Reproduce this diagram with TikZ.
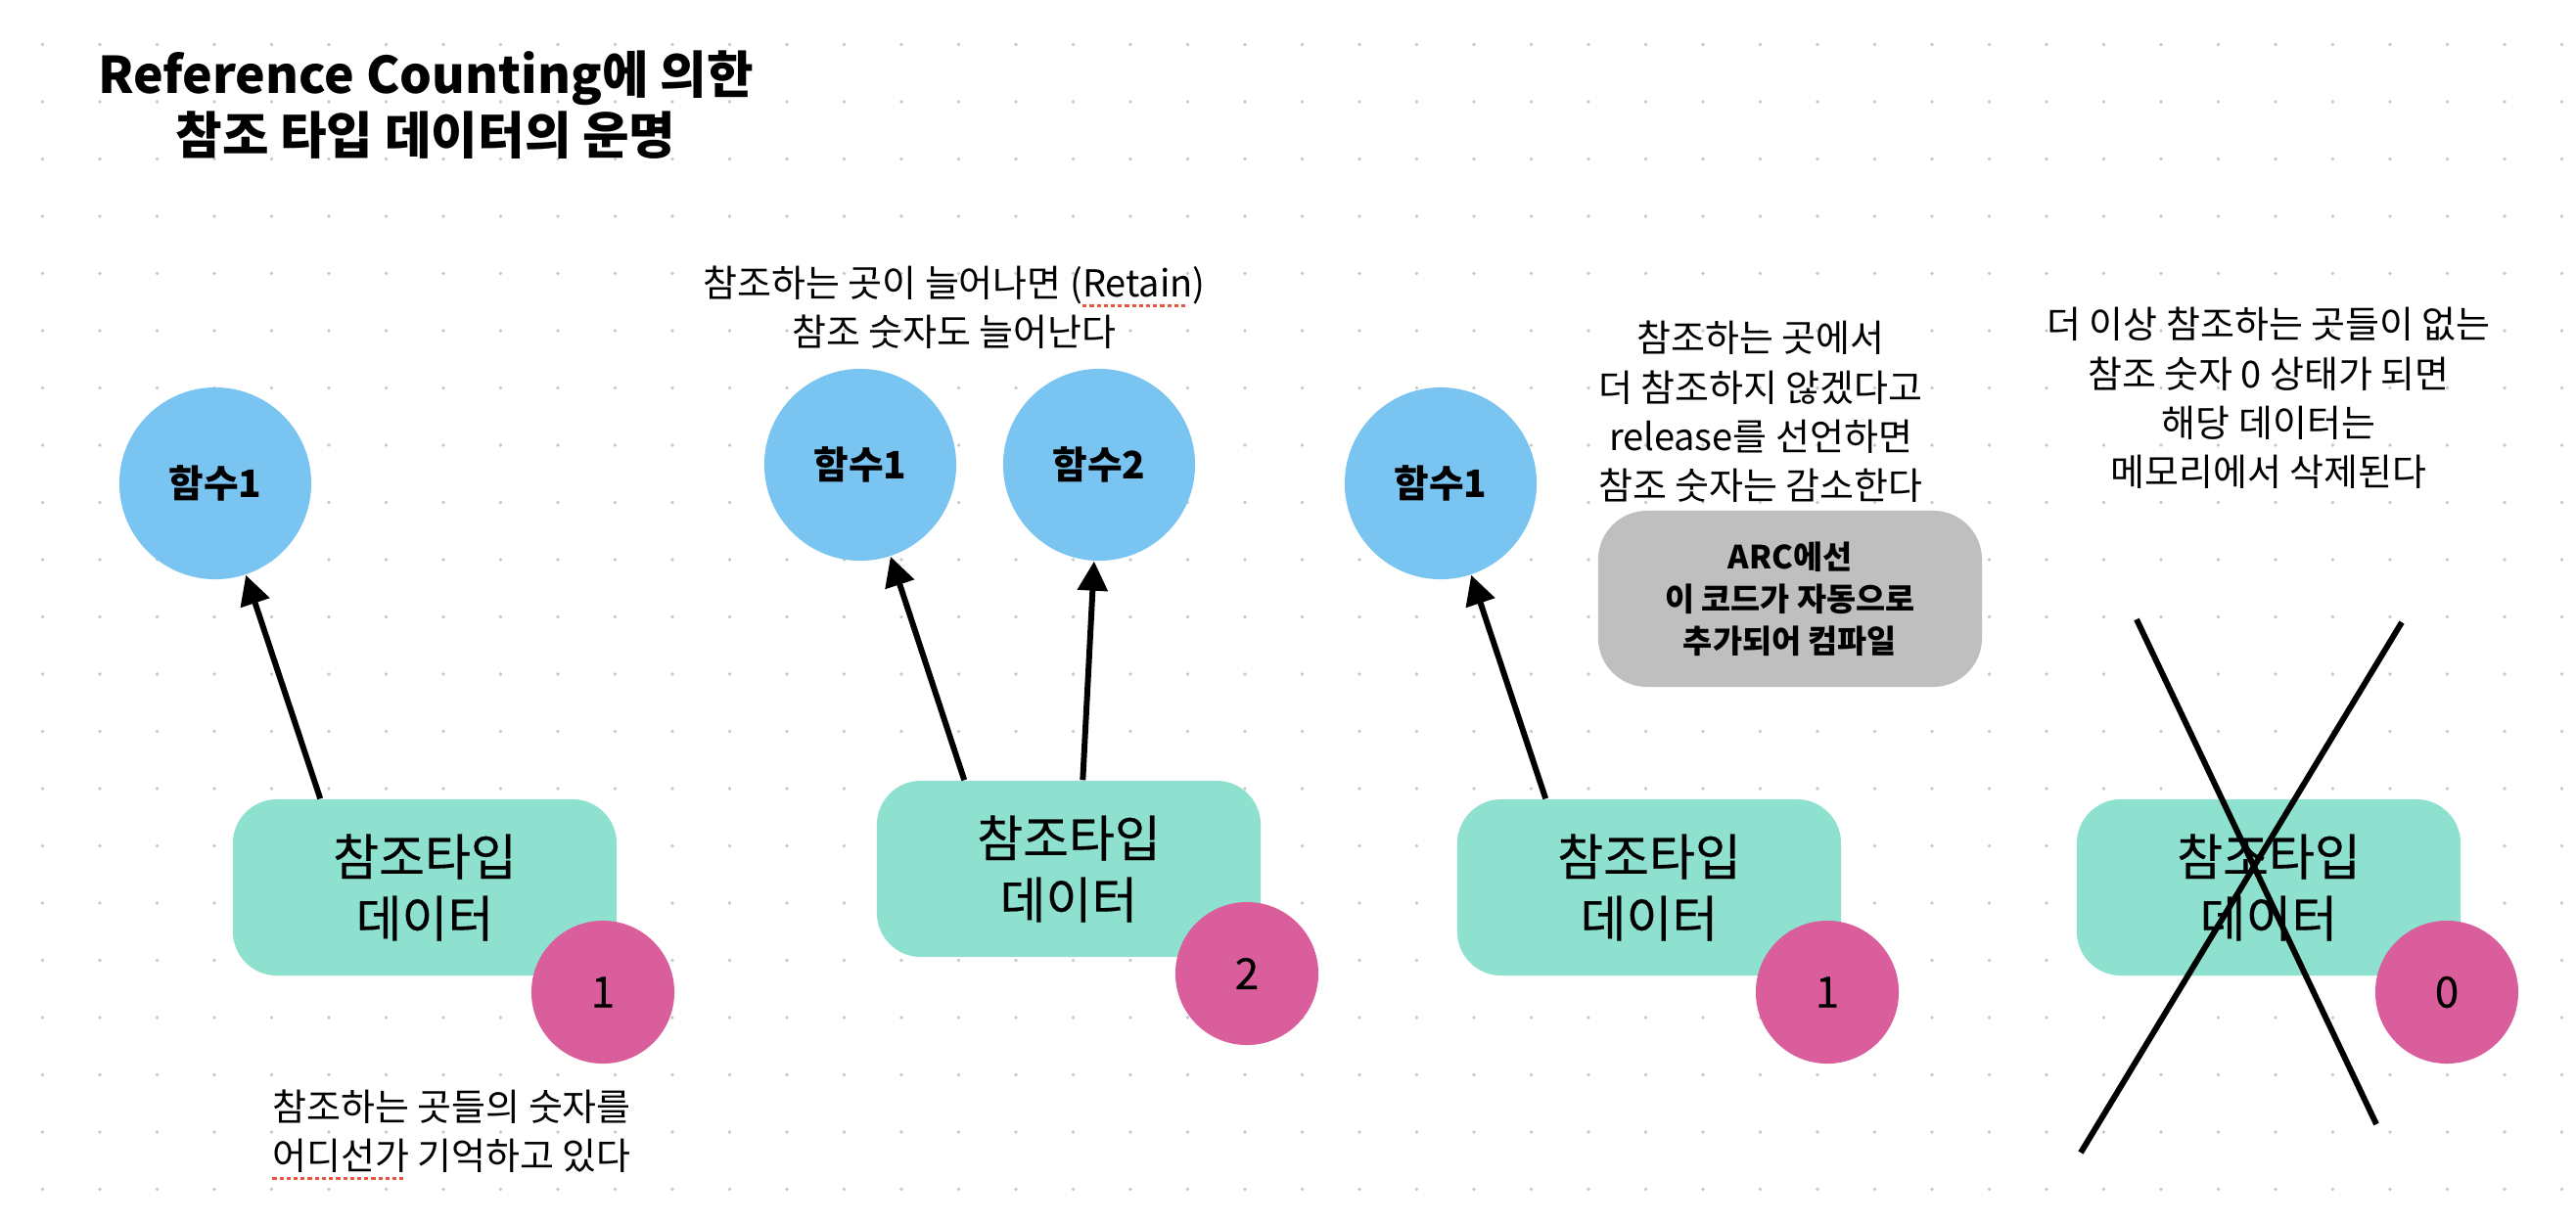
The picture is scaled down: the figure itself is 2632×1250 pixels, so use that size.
\documentclass[tikz,border=0pt]{standalone}
\usepackage{fontspec}
\setmainfont{Noto Sans CJK KR}
\newfontfamily\medfont[FakeBold=0.35]{Noto Sans CJK KR}
\usetikzlibrary{arrows.meta}
\definecolor{funcblue}{HTML}{79C4F1}
\definecolor{datagreen}{HTML}{8EE1CF}
\definecolor{countpink}{HTML}{DA5D9C}
\definecolor{arcgray}{HTML}{BFBFBF}
\definecolor{dotgray}{HTML}{C8C8C8}
\definecolor{spellred}{HTML}{E9553F}
% red dotted spell-check mark under a word
\newcommand{\spellmark}[1]{\setbox0=\hbox{#1}\rlap{\raisebox{-3pt}{\textcolor{spellred}{\hbox to \wd0{\leaders\hbox to 2.05pt{\rule{1.2pt}{0.85pt}\hss}\hfill}}}}\box0\relax}
\tikzset{
  func/.style={circle, fill=funcblue, minimum size=1.96cm, inner sep=0pt, font=\fontsize{11}{13}\selectfont\bfseries},
  refdata/.style={rectangle, rounded corners=0.45cm, fill=datagreen, minimum width=3.92cm, minimum height=1.8cm, align=center, font=\fontsize{14.5}{17.9}\selectfont\medfont},
  refcount/.style={circle, fill=countpink, minimum size=1.46cm, inner sep=0pt, font=\fontsize{12.5}{14}\selectfont\medfont},
  note/.style={align=center, font=\fontsize{10.8}{14.3}\selectfont},
  arcbox/.style={rectangle, rounded corners=0.5cm, fill=arcgray, minimum width=3.92cm, minimum height=1.8cm, align=center, font=\fontsize{9.3}{12.2}\selectfont\bfseries},
  ref/.style={line width=1.7pt, -{Triangle[length=0.3cm,width=0.3cm]}},
  cross/.style={line width=1.7pt},
}
\begin{document}
\begin{tikzpicture}[x=0.01cm, y=-0.01cm]
    \useasboundingbox (0,0) rectangle (2632,1250);
    \fill[white] (0,0) rectangle (2632,1250);
    \foreach \i in {0,...,44} {
        \foreach \j in {0,...,20} {
            \fill[dotgray] (43.5+58.5*\i, 45.5+58.5*\j) circle[radius=0.55pt];
        }
    }

    \node[align=center, font=\fontsize{14.7}{17.6}\selectfont\bfseries] (title) at (435,107) {Reference Counting에 의한\\참조 타입 데이터의 운명};

    % one reference
    \node[func] (f11) at (220,494) {함수1};
    \node[refdata] (d1) at (434,907) {참조타입\\데이터};
    \node[refcount] (c1) at (616,1014) {1};
    \node[note, align=left, anchor=west] (n1) at (266,1160) {참조하는 곳들의 숫자를\\\spellmark{어디선가} 기억하고 있다};
    \draw[ref] ([xshift=0.9cm]d1.north west) -- (f11);

    % retain
    \node[note] (n2) at (975,314) {참조하는 곳이 늘어나면 (\spellmark{Retain})\\참조 숫자도 늘어난다};
    \node[func] (f21) at (879,475) {함수1};
    \node[func] (f22) at (1123,475) {함수2};
    \node[refdata] (d2) at (1092,888) {참조타입\\데이터};
    \node[refcount] (c2) at (1274,995) {2};
    \draw[ref] ([xshift=0.9cm]d2.north west) -- (f21);
    \draw[ref] ([xshift=2.11cm]d2.north west) -- (f22);

    % release
    \node[note] (n3) at (1799,421) {참조하는 곳에서\\더 참조하지 않겠다고\\release를 선언하면\\참조 숫자는 감소한다};
    \node[arcbox] (arc) at (1829,612) {ARC에선\\이 코드가 자동으로\\추가되어 컴파일};
    \node[func] (f31) at (1472,494) {함수1};
    \node[refdata] (d3) at (1685,907) {참조타입\\데이터};
    \node[refcount] (c3) at (1867,1014) {1};
    \draw[ref] ([xshift=0.91cm]d3.north west) -- (f31);

    % zero
    \node[note] (n4) at (2318,407) {더 이상 참조하는 곳들이 없는\\참조 숫자 0 상태가 되면\\해당 데이터는\\메모리에서 삭제된다};
    \node[refdata] (d4) at (2318,907) {참조타입\\데이터};
    \node[refcount] (c4) at (2500,1014) {0};
    \coordinate (xa) at (2183,633);
    \coordinate (xb) at (2428,1149);
    \coordinate (xc) at (2454,636);
    \coordinate (xd) at (2126,1178);
    \draw[cross] (xa) -- (xb);
    \draw[cross] (xc) -- (xd);
\end{tikzpicture}
\end{document}
